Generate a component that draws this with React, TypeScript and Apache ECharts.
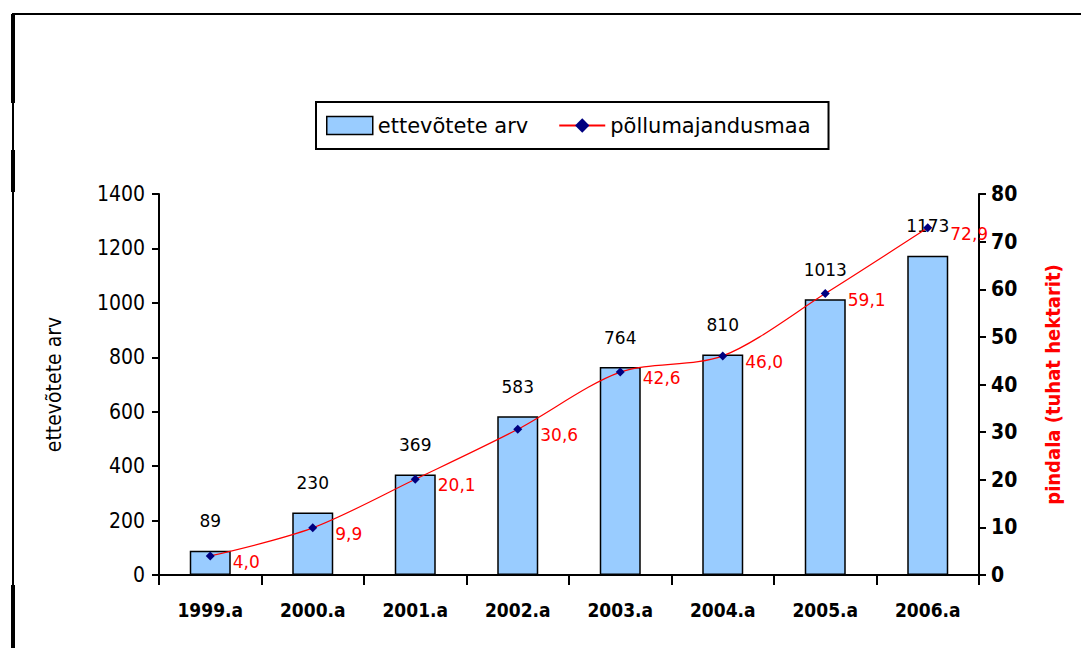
import React, { useEffect, useRef } from "react";
import * as echarts from "echarts";

const categories = ["1999.a", "2000.a", "2001.a", "2002.a", "2003.a", "2004.a", "2005.a", "2006.a"];
const companies = [89, 230, 369, 583, 764, 810, 1013, 1173];
const farmland = [4.0, 9.9, 20.1, 30.6, 42.6, 46.0, 59.1, 72.9];

const COND = "'DejaVu Sans Condensed', 'Liberation Sans', Arial, sans-serif";
const WIDE = "'DejaVu Sans', 'Liberation Sans', Arial, sans-serif";

export default function App() {
  const ref = useRef<HTMLDivElement>(null);
  useEffect(() => {
    const chart = echarts.init(ref.current!, undefined, { renderer: "svg" });
    chart.setOption({
      animation: false,
      backgroundColor: "#ffffff",
      grid: { left: 159, right: 102, top: 194, bottom: 73 },
      legend: {
        left: 316,
        top: 102,
        width: 508,
        borderColor: "#000",
        borderWidth: 2,
        padding: [13, 18, 13, 10],
        itemGap: 30,
        itemWidth: 46,
        itemHeight: 18,
        textStyle: { fontFamily: WIDE, fontSize: 21, color: "#000" },
        data: [
          { name: "ettevõtete arv", icon: "rect", itemStyle: { color: "#99ccff", borderColor: "#000", borderWidth: 1.5 } },
          { name: "põllumajandusmaa" },
        ],
      },
      xAxis: {
        type: "category",
        data: categories,
        axisLine: { lineStyle: { color: "#000", width: 2 } },
        axisTick: { show: true, length: 10, lineStyle: { color: "#000", width: 2 } },
        axisLabel: { fontFamily: COND, fontWeight: "bold", fontSize: 19, color: "#000", margin: 25 },
      },
      yAxis: [
        {
          type: "value",
          min: 0,
          max: 1400,
          interval: 200,
          name: "ettevõtete arv",
          nameLocation: "middle",
          nameGap: 95,
          nameTextStyle: { fontFamily: COND, fontSize: 21, color: "#000" },
          axisLine: { show: true, lineStyle: { color: "#000", width: 2 } },
          axisTick: { show: true, length: 7, lineStyle: { color: "#000", width: 2 } },
          axisLabel: { fontFamily: COND, fontSize: 21, color: "#000", margin: 14, formatter: (v: number) => String(v) },
          splitLine: { show: false },
        },
        {
          type: "value",
          min: 0,
          max: 80,
          interval: 10,
          position: "right",
          name: "pindala (tuhat hektarit)",
          nameLocation: "middle",
          nameGap: 64,
          nameTextStyle: { fontFamily: COND, fontSize: 20, fontWeight: "bold", color: "#ff0000" },
          axisLine: { show: true, lineStyle: { color: "#000", width: 2 } },
          axisTick: { show: true, length: 7, lineStyle: { color: "#000", width: 2 } },
          axisLabel: { fontFamily: COND, fontWeight: "bold", fontSize: 21, color: "#000", margin: 12 },
          splitLine: { show: false },
        },
      ],
      series: [
        {
          name: "ettevõtete arv",
          type: "bar",
          data: companies,
          barWidth: "40%",
          itemStyle: { color: "#99ccff", borderColor: "#000", borderWidth: 1.5 },
          label: {
            show: true,
            position: "top",
            distance: 21,
            fontFamily: WIDE,
            fontSize: 17,
            color: "#000",
          },
        },
        {
          name: "põllumajandusmaa",
          type: "line",
          yAxisIndex: 1,
          data: farmland,
          smooth: 0.3,
          symbol: "diamond",
          symbolSize: 9,
          itemStyle: { color: "#000080" },
          lineStyle: { color: "#ff0000", width: 1.2 },
          label: {
            show: true,
            position: "right",
            distance: 18,
            offset: [0, 6],
            fontFamily: WIDE,
            fontSize: 17,
            color: "#ff0000",
            formatter: (p: any) => Number(p.value).toFixed(1).replace(".", ","),
          },
        },
      ],
      graphic: [
        { type: "rect", shape: { x: 13, y: 14, width: 1100, height: 700 }, style: { fill: "none", stroke: "#000", lineWidth: 2 }, silent: true },
        { type: "line", shape: { x1: 13, y1: 14, x2: 13, y2: 103 }, style: { stroke: "#000", lineWidth: 4 } },
        { type: "line", shape: { x1: 13, y1: 150, x2: 13, y2: 192 }, style: { stroke: "#000", lineWidth: 4 } },
        { type: "line", shape: { x1: 13, y1: 585, x2: 13, y2: 648 }, style: { stroke: "#000", lineWidth: 4 } },
      ],
    });
    return () => chart.dispose();
  }, []);
  return <div ref={ref} style={{ position: "absolute", left: 0, top: 0, width: 1081, height: 648 }} />;
}
